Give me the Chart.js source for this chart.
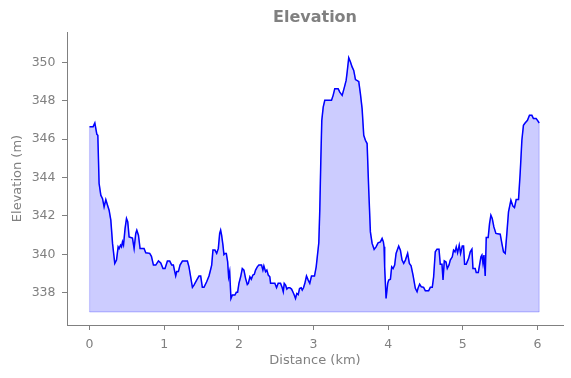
<!DOCTYPE html>
<html>
<head>
<meta charset="utf-8">
<script src="https://cdn.jsdelivr.net/npm/chart.js@4/dist/chart.umd.min.js"></script>
<style>
  html, body { margin: 0; padding: 0; background: #fff; }
  #wrap { width: 571px; height: 378px; }
</style>
</head>
<body>
<div id="wrap"><canvas id="c" width="571" height="378"></canvas></div>
<script>
const chartTitle = "Elevation";
const xAxisLabel = "Distance (km)";
const yAxisLabel = "Elevation (m)";
const xTickValues = [0, 1, 2, 3, 4, 5, 6];
const yTickValues = [338, 340, 342, 344, 346, 348, 350];
const baseElevation = 337;

const distanceKm = [
  0.0, 0.048, 0.071, 0.098, 0.111, 0.128, 0.151, 0.174, 0.195, 0.218, 0.241, 0.262, 0.285, 0.308, 0.338, 0.361,
  0.383, 0.396, 0.415, 0.428, 0.441, 0.455, 0.476, 0.495, 0.512, 0.530, 0.552, 0.575, 0.597, 0.619, 0.633, 0.655,
  0.677, 0.730, 0.753, 0.806, 0.829, 0.856, 0.887, 0.923, 0.954, 0.984, 1.011, 1.043, 1.074, 1.101, 1.123, 1.137,
  1.154, 1.168, 1.190, 1.212, 1.244, 1.311, 1.332, 1.378, 1.399, 1.435, 1.466, 1.489, 1.511, 1.533, 1.569, 1.600,
  1.622, 1.636, 1.653, 1.680, 1.703, 1.725, 1.743, 1.756, 1.769, 1.787, 1.800, 1.814, 1.832, 1.850, 1.863, 1.877,
  1.894, 1.913, 1.947, 1.966, 1.983, 2.001, 2.024, 2.046, 2.068, 2.090, 2.113, 2.127, 2.148, 2.167, 2.188, 2.207,
  2.224, 2.247, 2.268, 2.304, 2.322, 2.335, 2.358, 2.375, 2.394, 2.415, 2.425, 2.482, 2.505, 2.527, 2.558, 2.581,
  2.595, 2.608, 2.626, 2.643, 2.661, 2.683, 2.706, 2.723, 2.742, 2.759, 2.776, 2.795, 2.813, 2.835, 2.849, 2.866,
  2.884, 2.906, 2.929, 2.950, 2.973, 3.013, 3.036, 3.053, 3.071, 3.084, 3.098, 3.111, 3.130, 3.151, 3.241, 3.263,
  3.285, 3.330, 3.352, 3.384, 3.415, 3.437, 3.451, 3.472, 3.495, 3.517, 3.539, 3.562, 3.592, 3.606, 3.628, 3.651,
  3.673, 3.695, 3.718, 3.740, 3.762, 3.785, 3.812, 3.838, 3.865, 3.896, 3.919, 3.936, 3.945, 3.953, 3.972, 3.994,
  4.007, 4.030, 4.047, 4.066, 4.087, 4.106, 4.141, 4.164, 4.186, 4.208, 4.231, 4.261, 4.284, 4.307, 4.333, 4.364,
  4.387, 4.400, 4.422, 4.444, 4.475, 4.498, 4.542, 4.565, 4.591, 4.609, 4.631, 4.654, 4.681, 4.698, 4.721, 4.735,
  4.752, 4.775, 4.792, 4.815, 4.832, 4.859, 4.876, 4.895, 4.912, 4.930, 4.952, 4.970, 4.993, 5.010, 5.024, 5.046,
  5.077, 5.100, 5.122, 5.136, 5.166, 5.180, 5.207, 5.224, 5.243, 5.256, 5.270, 5.283, 5.300, 5.314, 5.340, 5.358,
  5.376, 5.394, 5.416, 5.443, 5.501, 5.523, 5.545, 5.568, 5.590, 5.612, 5.644, 5.671, 5.692, 5.715, 5.746, 5.768,
  5.791, 5.812, 5.834, 5.866, 5.893, 5.925, 5.946, 5.982, 6.005, 6.023
];

const elevationM = [
  346.65, 346.65, 346.84, 346.25, 346.2, 343.69, 343.08, 342.9, 342.47, 342.85, 342.56, 342.3, 341.78, 340.57, 339.53, 339.7,
  340.39, 340.3, 340.48, 340.39, 340.65, 340.48, 341.35, 341.87, 341.69, 340.91, 340.88, 340.85, 340.3, 341.09, 341.26, 341.0,
  340.3, 340.3, 340.08, 340.05, 339.9, 339.44, 339.44, 339.66, 339.55, 339.26, 339.26, 339.65, 339.65, 339.44, 339.44, 339.18,
  338.88, 339.1, 339.1, 339.44, 339.65, 339.65, 339.35, 338.28, 338.4, 338.66, 338.87, 338.87, 338.28, 338.28, 338.57, 338.87,
  339.21, 339.44, 340.22, 340.22, 340.05, 340.31, 341.09, 341.26, 341.0, 340.48, 339.99, 340.05, 340.05, 339.61, 338.83, 339.1,
  337.7, 337.88, 337.88, 338.02, 338.02, 338.49, 338.83, 339.26, 339.18, 338.75, 338.43, 338.49, 338.83, 338.7, 338.92, 338.96,
  339.18, 339.35, 339.44, 339.44, 339.18, 339.4, 339.1, 339.18, 338.92, 338.83, 338.49, 338.49, 338.26, 338.49, 338.49, 338.26,
  338.05, 338.49, 338.4, 338.19, 338.26, 338.26, 338.19, 338.05, 337.88, 337.7, 337.96, 337.9, 338.22, 338.26, 338.14, 338.26,
  338.49, 338.87, 338.66, 338.49, 338.87, 338.87, 339.35, 339.96, 340.6, 342.3, 344.9, 346.98, 347.67, 348.02, 348.02, 348.28,
  348.63, 348.63, 348.45, 348.28, 348.72, 349.06, 349.5, 350.24, 350.02, 349.76, 349.58, 349.1, 349.03, 349.0, 348.37, 347.59,
  346.2, 345.94, 345.77, 343.34, 341.17, 340.57, 340.26, 340.39, 340.6, 340.65, 340.83, 340.65, 340.39, 339.35, 337.7, 338.49,
  338.66, 338.7, 339.35, 339.26, 339.44, 340.05, 340.43, 340.22, 339.7, 339.53, 339.7, 340.05, 339.53, 339.4, 338.92, 338.23,
  338.05, 338.23, 338.45, 338.31, 338.28, 338.1, 338.1, 338.28, 338.28, 338.83, 340.13, 340.27, 340.27, 339.49, 339.49, 338.66,
  339.66, 339.6, 339.26, 339.44, 339.7, 339.87, 340.22, 340.13, 340.39, 340.08, 340.48, 340.05, 340.43, 340.43, 339.49, 339.49,
  339.78, 340.13, 340.27, 339.26, 339.26, 339.05, 339.05, 339.44, 339.87, 339.96, 339.53, 339.96, 338.87, 340.88, 340.88, 341.6,
  342.04, 341.87, 341.43, 341.09, 341.05, 340.57, 340.13, 340.05, 341.09, 342.21, 342.82, 342.51, 342.44, 342.85, 342.85, 344.21,
  345.94, 346.72, 346.84, 346.98, 347.24, 347.24, 347.07, 347.07, 346.95, 346.84
];

const profile = distanceKm.map((d, i) => ({ x: d, y: elevationM[i] }));
const firstD = distanceKm[0];
const lastD = distanceKm[distanceKm.length - 1];
const areaOutline = [{ x: firstD, y: baseElevation }]
  .concat(profile)
  .concat([{ x: lastD, y: baseElevation }]);
const baseLine = [{ x: firstD, y: baseElevation }, { x: lastD, y: baseElevation }];

const gray = '#808080';
const tickFont = { family: 'DejaVu Sans', size: 12.5 };
const labelFont = { family: 'DejaVu Sans', size: 13 };

new Chart(document.getElementById('c'), {
  type: 'line',
  data: {
    datasets: [
      {
        data: areaOutline,
        borderColor: 'rgba(0,0,255,0.2)',
        backgroundColor: 'rgba(0,0,255,0.2)',
        borderWidth: 1.2,
        pointRadius: 0,
        tension: 0,
        fill: { value: baseElevation },
        order: 3
      },
      {
        data: baseLine,
        borderColor: 'rgba(0,0,255,0.2)',
        borderWidth: 1.2,
        pointRadius: 0,
        fill: false,
        order: 2
      },
      {
        data: profile,
        borderColor: '#0000ff',
        borderWidth: 1.5,
        pointRadius: 0,
        tension: 0,
        fill: false,
        order: 1
      }
    ]
  },
  options: {
    responsive: false,
    animation: false,
    devicePixelRatio: 1,
    layout: { padding: { left: 0, right: 8, top: 0, bottom: 0 } },
    plugins: {
      legend: { display: false },
      tooltip: { enabled: false },
      title: {
        display: true,
        fullSize: false,
        text: chartTitle,
        color: gray,
        font: { family: 'DejaVu Sans', size: 16, weight: 'bold' },
        padding: { top: 8, bottom: 4.8 }
      }
    },
    scales: {
      x: {
        type: 'linear',
        min: -0.302,
        max: 6.342,
        afterFit: (s) => { s.height = 53; },
        afterBuildTicks: (s) => { s.ticks = xTickValues.map(v => ({ value: v })); },
        ticks: { color: gray, font: tickFont, padding: 7, callback: (v) => String(v) },
        grid: { display: true, drawOnChartArea: false, drawTicks: true, tickLength: 5, tickColor: gray, tickWidth: 1 },
        border: { display: true, color: gray, width: 1 },
        title: { display: true, text: xAxisLabel, color: gray, font: labelFont, padding: { top: 0, bottom: 9.5 } }
      },
      y: {
        type: 'linear',
        min: 336.32,
        max: 351.58,
        afterFit: (s) => { s.width = 67; },
        afterBuildTicks: (s) => { s.ticks = yTickValues.map(v => ({ value: v })); },
        ticks: { color: gray, font: tickFont, padding: 6.5, callback: (v) => String(v) },
        grid: { display: true, drawOnChartArea: false, drawTicks: true, tickLength: 5, tickColor: gray, tickWidth: 1 },
        border: { display: true, color: gray, width: 1 },
        title: { display: true, text: yAxisLabel, color: gray, font: labelFont, padding: { top: 9.5, bottom: 0 } }
      }
    }
  }
});
</script>
</body>
</html>
